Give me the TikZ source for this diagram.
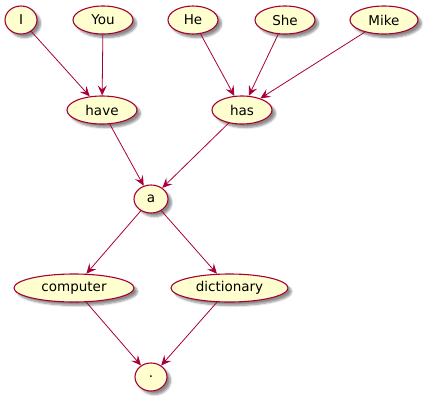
\documentclass[tikz,border=0pt]{standalone}
\usepackage{fontspec}
\setmainfont{DejaVu Sans}
\usetikzlibrary{shapes.geometric,arrows.meta,shadows.blur}
\definecolor{ucfill}{HTML}{FEFECE}
\definecolor{ucline}{HTML}{A80036}
\tikzset{
  uc/.style={ellipse, draw=ucline, line width=1.1pt, fill=ucfill, inner sep=0pt,
    minimum height=28pt, font=\fontsize{13.5}{16}\selectfont,
    blur shadow={shadow xshift=3.5pt, shadow yshift=-3.5pt, shadow blur radius=2pt, shadow blur steps=6, shadow opacity=45}},
  link/.style={draw=ucline, line width=0.8pt, -{Stealth[length=10pt,width=9pt,inset=4pt]}}
}
\begin{document}
\begin{tikzpicture}[x=1pt,y=-1pt]
\useasboundingbox (0,0) rectangle (429,400);
\node[uc, minimum width=32pt] (I) at (21,20) {I};
\node[uc, minimum width=60pt] (You) at (103,20) {You};
\node[uc, minimum width=50pt] (He) at (193,20) {He};
\node[uc, minimum width=60pt] (She) at (285,20) {She};
\node[uc, minimum width=68pt] (Mike) at (384,20) {Mike};
\node[uc, minimum width=70pt] (have) at (102,110) {have};
\node[uc, minimum width=60pt] (has) at (242,110) {has};
\node[uc, minimum width=34pt] (a) at (151,199) {a};
\node[uc, minimum width=120pt] (computer) at (74,288) {computer};
\node[uc, minimum width=117pt] (dictionary) at (229.5,288) {dictionary};
\node[uc, minimum width=32pt] (dot) at (151,377) {.};
\draw[link] (I) -- (have);
\draw[link] (You) -- (have);
\draw[link] (He) -- (has);
\draw[link] (She) -- (has);
\draw[link] (Mike) -- (has);
\draw[link] (have) -- (a);
\draw[link] (has) -- (a);
\draw[link] (a) -- (computer);
\draw[link] (a) -- (dictionary);
\draw[link] (computer) -- (dot);
\draw[link] (dictionary) -- (dot);
\end{tikzpicture}
\end{document}
